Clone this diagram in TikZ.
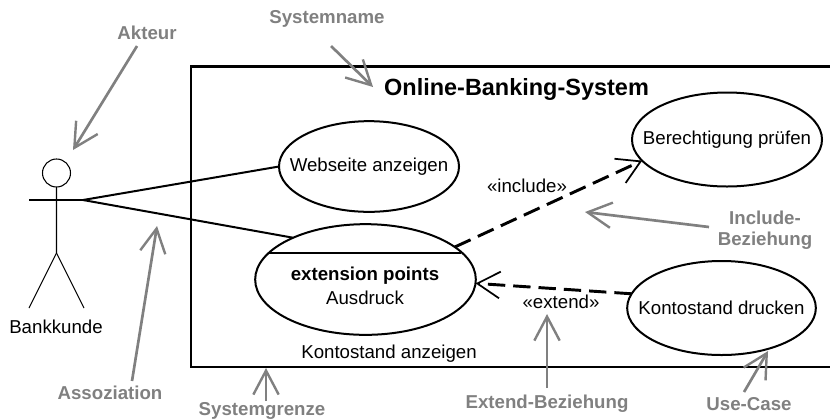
\documentclass[tikz,border=0pt]{standalone}
\usepackage{fontspec}
\setmainfont{Liberation Sans}
\usetikzlibrary{arrows.meta,shapes.geometric}

\begin{document}
\begin{tikzpicture}[scale=0.75,x=1pt,y=1pt]
\tikzstyle{every node}+=[inner sep=0pt,outer sep=0pt,font=\fontsize{14}{16}\selectfont]
\tikzstyle{usecase}=[draw=black,ellipse,line width=1.5pt,align=center,inner xsep=-16pt]
\tikzstyle{hint}=[text=gray,font=\fontsize{14}{16}\selectfont\bfseries,align=center]
\tikzstyle{hintline}=[draw=gray,line width=2pt,-{Straight Barb[length=18pt,width=19pt,line width=1.8pt]}]
\tikzstyle{dep}=[draw=black,line width=2.2pt,dash pattern=on 13pt off 6pt,-{Straight Barb[length=17pt,width=20pt,line width=1.3pt]}]
\useasboundingbox (0,0) rectangle (830,-419);
\draw [black,line width=1.6pt] (830,-66.5) -- (191,-66.5) -- (191,-367) -- (830,-367);
\draw (516.5,-89) node [font=\fontsize{17.6}{20}\selectfont\bfseries] (title) {Online-Banking-System};
\draw (56.5,-173) node [circle,draw=black,line width=0.8pt,minimum size=21pt] (head) {};
\coordinate (hip) at (56.5,-253);
\coordinate (armL) at (29,-200);
\coordinate (armR) at (83,-200);
\coordinate (legL) at (29,-308);
\coordinate (legR) at (84,-308);
\draw [black,line width=0.8pt] (head) -- (hip) -- (legL);
\draw [black,line width=0.8pt] (hip) -- (legR);
\draw [black,line width=0.8pt] (armL) -- (armR);
\draw (56,-327) node (actor) {Bankkunde};
\draw (369,-166.5) node [usecase,minimum width=135pt,minimum height=68pt] (web) {Webseite anzeigen};
\draw (727,-139.5) node [usecase,minimum width=142.5pt,minimum height=70.5pt] (perm) {Berechtigung prüfen};
\draw (721.5,-308) node [usecase,minimum width=141.5pt,minimum height=70.5pt] (print) {Kontostand drucken};
\draw (365.5,-279.5) node [usecase,minimum width=165.5pt,minimum height=83pt] (show) {};
\coordinate (splitL) at (268,-253);
\coordinate (splitR) at (461,-253);
\draw [black,line width=1.3pt] (splitL) -- (splitR);
\draw (365,-276) node [font=\fontsize{14}{16}\selectfont\bfseries] (points) {extension points};
\draw (365,-298) node (point) {Ausdruck};
\draw (389,-354) node (showname) {Kontostand anzeigen};
\draw [black,line width=1.5pt] (armR) -- (web.west);
\draw [black,line width=1.5pt] (armR) -- (show.150);
\path [dep] (show.20) -- (perm.194);
\path [dep] (print.171) -- (show.-2);
\draw (527,-186) node (inc) {«include»};
\draw (561,-302) node (ext) {«extend»};
\draw (147,-33) node [hint] (hactor) {Akteur};
\draw (327,-19) node [hint] (hname) {Systemname};
\draw (110,-393) node [hint] (hassoc) {Assoziation};
\draw (262,-411) node [hint] (hbound) {Systemgrenze};
\draw (765,-230) node [hint] (hinc) {Include-\\Beziehung};
\draw (547,-404) node [hint] (hext) {Extend-Beziehung};
\draw (749,-404) node [hint] (hcase) {Use-Case};
\coordinate (tactor) at (73,-150);
\coordinate (tname) at (373,-87);
\coordinate (tassoc) at (157,-226);
\coordinate (tbound) at (266,-368);
\coordinate (tinc) at (585,-212);
\coordinate (text) at (547,-314);
\coordinate (tcase) at (768,-351);
\coordinate (sactor) at (137,-46);
\coordinate (sname) at (331,-46);
\coordinate (sassoc) at (132,-381);
\coordinate (sbound) at (266,-401);
\coordinate (sinc) at (709,-227);
\coordinate (sext) at (547,-388);
\coordinate (scase) at (744,-392);
\path [hintline] (sactor) -- (tactor);
\path [hintline] (sname) -- (tname);
\path [hintline] (sassoc) -- (tassoc);
\path [hintline] (sbound) -- (tbound);
\path [hintline] (sinc) -- (tinc);
\path [hintline] (sext) -- (text);
\path [hintline] (scase) -- (tcase);
\end{tikzpicture}
\end{document}
